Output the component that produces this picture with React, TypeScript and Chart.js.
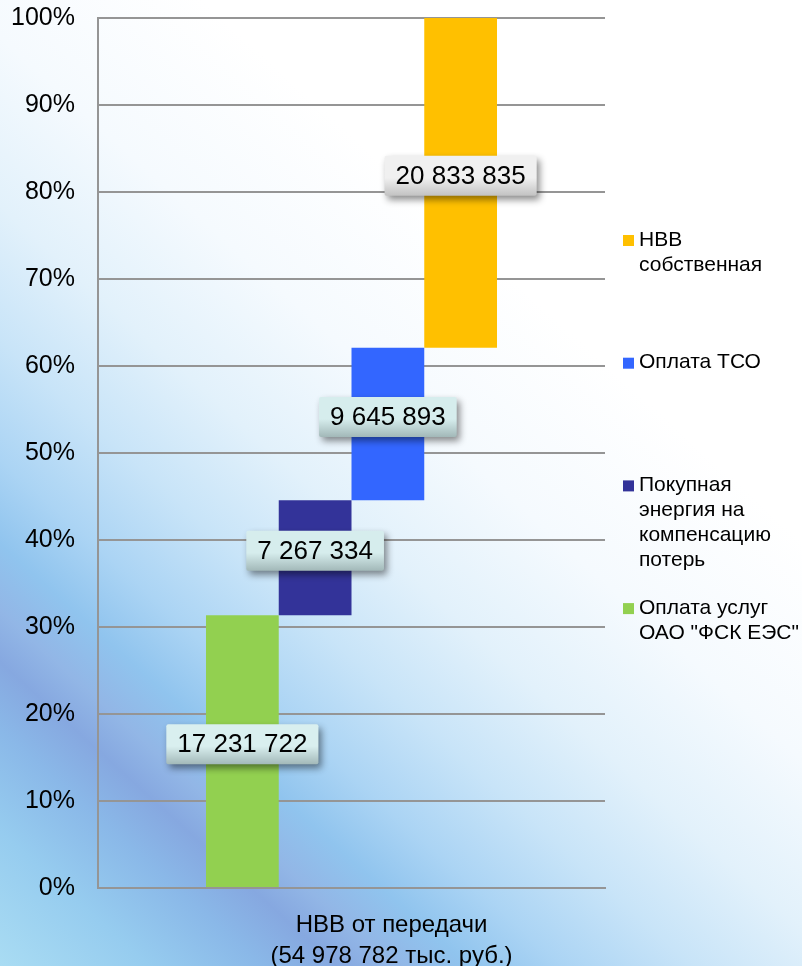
import React, { useEffect, useRef } from 'react';
import { Chart, registerables } from 'chart.js';

Chart.register(...registerables);

// ---- data ----
const categoryLines = ['НВВ от передачи', '(54 978 782 тыс. руб.)'];
const seriesNames = [
  'Оплата услуг ОАО "ФСК ЕЭС"',
  'Покупная энергия на компенсацию потерь',
  'Оплата ТСО',
  'НВВ собственная',
];
const seriesValues = [17231722, 7267334, 9645893, 20833835];
const seriesColors = ['#92D050', '#333399', '#3366FF', '#FFC000'];
const labelTints = [
  ['#d9efef', '#a3b9b9'],
  ['#d6eded', '#a2b8b8'],
  ['#d6eded', '#a2b8b8'],
  ['#f0f0f0', '#c2c2c2'],
];
const yTickValues = [0, 10, 20, 30, 40, 50, 60, 70, 80, 90, 100];

const FONT = '"Liberation Sans", Arial, sans-serif';

const total = seriesValues.reduce((a, b) => a + b, 0);
let acc = 0;
const ranges = seriesValues.map((v) => {
  const s = (acc / total) * 100;
  acc += v;
  return [s, (acc / total) * 100];
});

const fmt = (v: number) => String(v).replace(/\B(?=(\d{3})+(?!\d))/g, ' ');

const valueBoxes = {
  id: 'valueBoxes',
  afterDatasetsDraw(chart: any) {
    const ctx = chart.ctx;
    ctx.save();
    ctx.font = `26px ${FONT}`;
    chart.data.datasets.forEach((ds: any, i: number) => {
      const meta = chart.getDatasetMeta(i);
      const el = meta.data[0];
      if (!el) return;
      const { x, y, base } = el.getProps(['x', 'y', 'base'], true);
      const cy = (y + base) / 2 - 7;
      const text = fmt(seriesValues[i]);
      const tw = ctx.measureText(text).width;
      const w = tw + 22;
      const h = 40;
      const left = x - w / 2;
      const top = cy - h / 2;
      const g = ctx.createLinearGradient(0, top, 0, top + h);
      g.addColorStop(0, labelTints[i][0]);
      g.addColorStop(0.55, labelTints[i][0]);
      g.addColorStop(1, labelTints[i][1]);
      ctx.save();
      ctx.shadowColor = 'rgba(0,0,0,0.45)';
      ctx.shadowBlur = 7;
      ctx.shadowOffsetX = 3;
      ctx.shadowOffsetY = 4;
      ctx.fillStyle = g;
      ctx.beginPath();
      ctx.roundRect(left, top, w, h, 2);
      ctx.fill();
      ctx.restore();
      ctx.fillStyle = '#000';
      ctx.textAlign = 'center';
      ctx.textBaseline = 'middle';
      ctx.fillText(text, x, cy + 1);
    });
    ctx.restore();
  },
};

const sideLegend = {
  id: 'sideLegend',
  afterDraw(chart: any) {
    const ctx = chart.ctx;
    ctx.save();
    ctx.font = `21px ${FONT}`;
    ctx.textBaseline = 'middle';
    ctx.textAlign = 'left';
    const maxW = 163;
    const n = chart.data.datasets.length;
    for (let k = 0; k < n; k++) {
      const i = n - 1 - k;
      const ds = chart.data.datasets[i];
      const y0 = 240 + k * 122.7;
      ctx.fillStyle = ds.backgroundColor;
      ctx.fillRect(623, y0 - 5, 11, 11);
      const words = String(ds.label).split(' ');
      const lines: string[] = [];
      let cur = '';
      for (const w of words) {
        const t = cur ? cur + ' ' + w : w;
        if (ctx.measureText(t).width > maxW && cur) {
          lines.push(cur);
          cur = w;
        } else cur = t;
      }
      if (cur) lines.push(cur);
      ctx.fillStyle = '#000';
      lines.forEach((ln, j) => ctx.fillText(ln, 639, y0 + j * 25));
    }
    ctx.restore();
  },
};

export default function App() {
  const ref = useRef<HTMLCanvasElement>(null);
  useEffect(() => {
    if (!ref.current) return;
    Chart.defaults.color = '#000';
    const chart = new Chart(ref.current, {
      type: 'bar',
      data: {
        labels: [categoryLines],
        datasets: seriesNames.map((name, i) => ({
          label: name,
          data: [ranges[i]] as any,
          backgroundColor: seriesColors[i],
          borderWidth: 0,
          categoryPercentage: 0.574,
          barPercentage: 1,
        })),
      },
      options: {
        animation: false,
        responsive: false,
        maintainAspectRatio: false,
        layout: { padding: { left: 0, right: 197, top: 18, bottom: 0 } },
        plugins: {
          legend: { display: false },
          tooltip: { enabled: false },
        },
        scales: {
          x: {
            grid: { display: false, drawTicks: false },
            border: { display: true, color: '#959595', width: 2 },
            ticks: {
              color: '#000',
              font: { family: FONT, size: 24, lineHeight: 1.3 },
              padding: 22,
              maxRotation: 0,
              labelOffset: 40,
            },
            afterFit: (s: any) => {
              s.height = 78;
              s.paddingLeft = 0;
              s.paddingRight = 0;
            },
          },
          y: {
            min: 0,
            max: 100,
            afterBuildTicks: (s: any) => {
              s.ticks = yTickValues.map((v) => ({ value: v }));
            },
            grid: { color: '#959595', lineWidth: 2, drawTicks: false },
            border: { display: true, color: '#959595', width: 2 },
            ticks: {
              color: '#000',
              font: { family: FONT, size: 25 },
              padding: 23,
              callback: (v: any) => v + '%',
            },
            afterFit: (s: any) => {
              s.width = 98;
              s.paddingTop = 0;
              s.paddingBottom = 0;
            },
          },
        },
      },
      plugins: [valueBoxes, sideLegend],
    });
    return () => chart.destroy();
  }, []);

  return (
    <div
      style={{
        position: 'fixed',
        left: 0,
        top: 0,
        width: 802,
        height: 966,
        background:
          'linear-gradient(42deg, #a9dcf3 0%, #96ccef 8%, #8ab8e8 14%, #86a8e0 18%, #92b6e6 21%, #90c4ee 25%, #abd4f4 30%, #c8e4f8 37%, #e2f1fb 45%, #f5fafe 55%, #ffffff 68%, #ffffff 100%)',
      }}
    >
      <canvas ref={ref} width={802} height={966} style={{ display: 'block', width: 802, height: 966 }} />
    </div>
  );
}
